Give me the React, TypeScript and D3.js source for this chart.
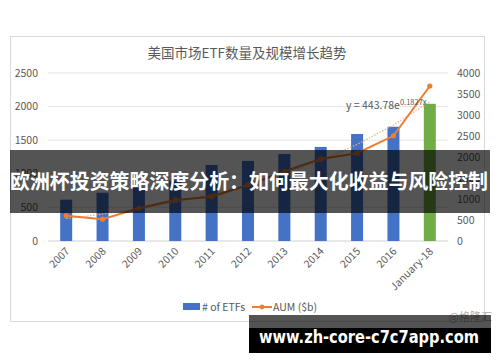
import React from "react";
import * as d3 from "d3";

const years = ["2007", "2008", "2009", "2010", "2011", "2012", "2013", "2014", "2015", "2016", "January-18"];
const etfCount = [615, 718, 792, 900, 1131, 1192, 1294, 1400, 1592, 1700, 2042];
const aum = [602, 520, 778, 978, 1055, 1335, 1655, 1955, 2090, 2505, 3690];
// exponential trendline values as drawn (y = 443.78e^0.1827x)
const trend = [533, 640, 768, 922, 1107, 1329, 1595, 1915, 2299, 2760, 3313];
const leftTicks = [0, 500, 1000, 1500, 2000, 2500];
const rightTicks = [0, 500, 1000, 1500, 2000, 2500, 3000, 3500, 4000];

const W = 500;
const H = 362;
const font = "'Noto Sans CJK SC', 'Noto Sans', sans-serif";
const gray = "#595959";

export default function App() {
  const x = d3.scaleBand().domain(years).range([48, 448]).paddingInner(0.67).paddingOuter(0.335);
  const yL = d3.scaleLinear().domain([0, 2500]).range([241, 73]);
  const yR = d3.scaleLinear().domain([0, 4000]).range([241, 73]);
  const cx = (d: string) => (x(d) ?? 0) + x.bandwidth() / 2;

  const aumLine = d3.line<number>().x((_, i) => cx(years[i])).y((v) => yR(v));
  const trendLine = d3.line<number>().x((_, i) => cx(years[i])).y((v) => yR(v));

  return (
    <svg width={W} height={H} style={{ position: "absolute", left: 0, top: 0 }} fontFamily={font}>
      <rect width={W} height={H} fill="#fff" />
      <rect x={10.5} y={36.5} width={474} height={285} fill="#fff" stroke="#d9d9d9" />
      <text x={247} y={58} textAnchor="middle" fontSize={13.5} fill={gray}>美国市场ETF数量及规模增长趋势</text>

      {leftTicks.map((t) => (
        <g key={"l" + t}>
          <line x1={48} x2={448} y1={yL(t)} y2={yL(t)} stroke={t === 0 ? "#d0d0d0" : "#e4e4e4"} />
          <text x={38} y={yL(t)} dy="0.35em" textAnchor="end" fontSize={10.5} fill={gray}>{t}</text>
        </g>
      ))}
      {rightTicks.map((t) => (
        <text key={"r" + t} x={457} y={yR(t)} dy="0.35em" fontSize={10.5} fill={gray}>{t}</text>
      ))}

      {years.map((d, i) => (
        <rect key={d} x={x(d)} y={yL(etfCount[i])} width={x.bandwidth()} height={241 - yL(etfCount[i])}
          fill={i === years.length - 1 ? "#70AD47" : "#4472C4"} />
      ))}

      <path d={trendLine(trend) ?? ""} fill="none" stroke="#F4B183" strokeWidth={1.2} strokeDasharray="1.5 1.5" />
      <path d={aumLine(aum) ?? ""} fill="none" stroke="#ED7D31" strokeWidth={2} />
      {aum.map((v, i) => (
        <circle key={i} cx={cx(years[i])} cy={yR(v)} r={2.6} fill="#ED7D31" />
      ))}

      <text x={346} y={109} fontSize={10.5} fill={gray}>
        y = 443.78e<tspan fontSize={7.5} dy={-4}>0.1827x</tspan>
      </text>

      {years.map((d) => (
        <text key={"x" + d} transform={`translate(${cx(d) + 4},${252}) rotate(-45)`} textAnchor="end"
          fontSize={10.5} fill={gray}>{d}</text>
      ))}

      <rect x={183} y={303} width={17} height={7} fill="#4472C4" />
      <text x={202} y={307} dy="0.35em" fontSize={10.5} fill={gray}># of ETFs</text>
      <line x1={252} x2={272} y1={307} y2={307} stroke="#ED7D31" strokeWidth={2} />
      <circle cx={262} cy={307} r={2.4} fill="#ED7D31" />
      <text x={273} y={307} dy="0.35em" fontSize={10.5} fill={gray}>AUM ($b)</text>

      <text x={492} y={321} textAnchor="end" fontSize={11} fill="#aaa">@格隆汇</text>

      <rect x={10} y={150} width={480} height={63} fill="#000" fillOpacity={0.67} />
      <text x={249} y={182} dy="0.35em" textAnchor="middle" fontSize={20} fontWeight="bold" fill="#fff"
        textLength={478} lengthAdjust="spacingAndGlyphs">欧洲杯投资策略深度分析：如何最大化收益与风险控制</text>

      <rect x={249} y={315} width={242} height={13} fill="#000" fillOpacity={0.67} />
      <rect x={249} y={328} width={242} height={25} fill="#000" />
      <text x={369} y={337} dy="0.35em" textAnchor="middle" fontSize={18} fontWeight="bold" fill="#fff"
        fontFamily="'DejaVu Sans', sans-serif" textLength={220} lengthAdjust="spacingAndGlyphs">www.zh-core-c7c7app.com</text>
    </svg>
  );
}
